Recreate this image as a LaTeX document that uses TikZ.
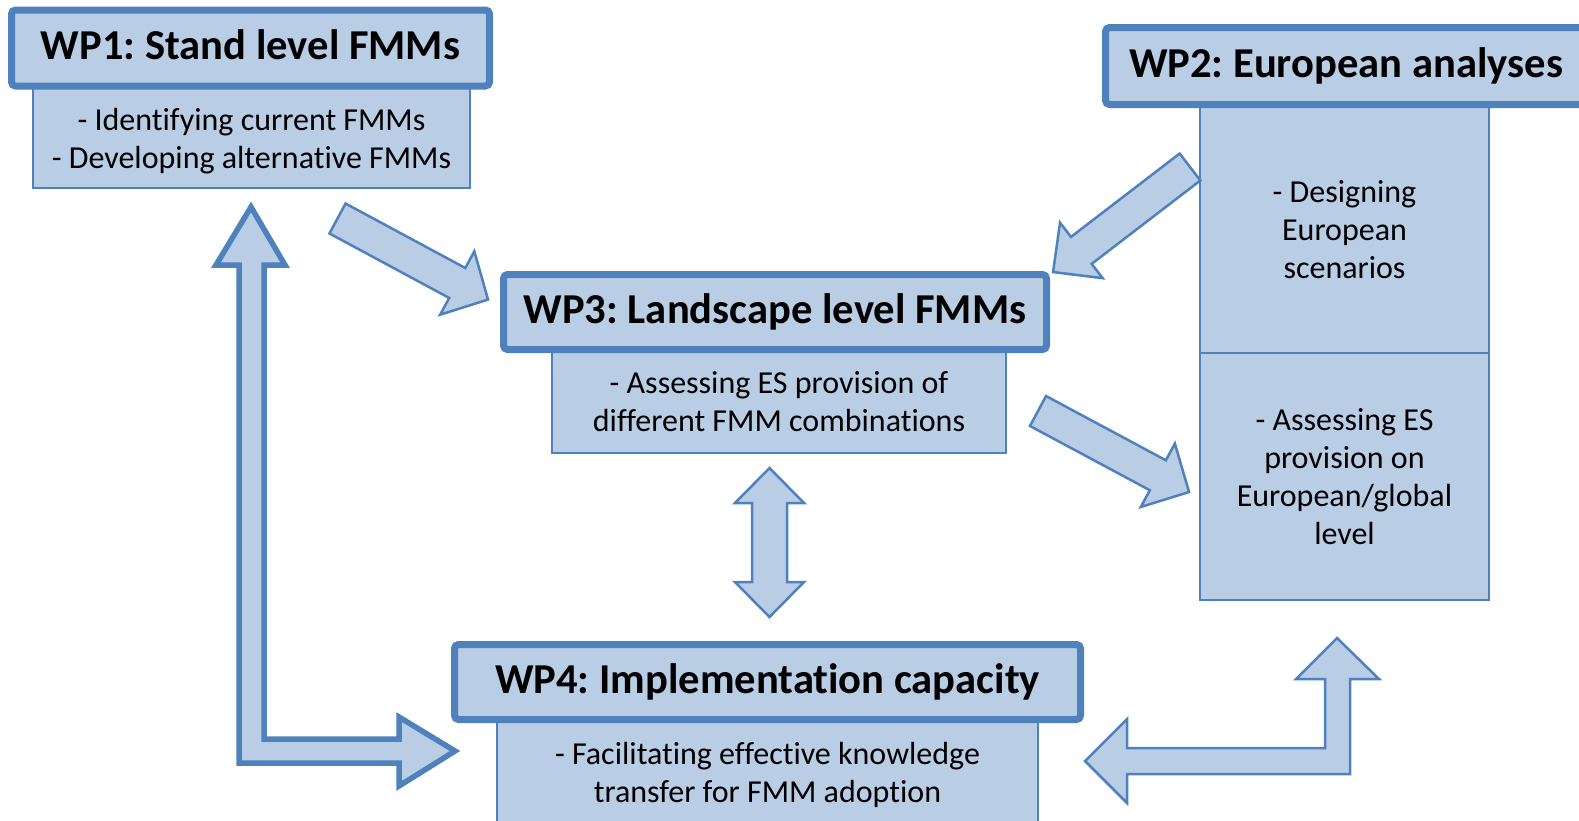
\documentclass[tikz,border=0pt]{standalone}
\usepackage{fontspec}
\setmainfont{Carlito}[Ligatures=CommonOff]
\frenchspacing
\definecolor{wpfill}{HTML}{B9CDE5}
\definecolor{wpline}{HTML}{4F81BD}
\tikzset{wptitle/.style = {draw=wpline, fill=wpfill, line width=7pt,
                           rounded corners=4pt, inner sep=0pt,
                           font=\fontsize{42.6}{50}\selectfont\bfseries,
                           text height=22pt, text depth=0pt}}
\tikzset{wptask/.style = {draw=wpline, fill=wpfill, line width=1.5pt,
                          inner sep=0pt, align=center, text depth=0pt,
                          font=\fontsize{32}{38}\selectfont}}
\tikzset{flow/.style = {draw=wpline, fill=wpfill, line width=2.5pt}}
\tikzset{flowthick/.style = {flow, line width=5.5pt}}

\begin{document}
\begin{tikzpicture}[x=1pt, y=-1pt]
      \useasboundingbox (0, 0) rectangle (1579, 820);
      \clip (0, 0) rectangle (1579, 820);

      \node [wptask, minimum width=437, minimum height=100] (wp1task) at (251.5, 138)
        {- Identifying current FMMs\\- Developing alternative FMMs};
      \node [wptask, minimum width=289, minimum height=248] (wp2scen) at (1344.5, 229)
        {- Designing\\European\\scenarios};
      \node [wptask, minimum width=289, minimum height=247] (wp2glob) at (1344.5, 476.5)
        {- Assessing ES\\provision on\\European/global\\level};
      \node [wptask, minimum width=454, minimum height=103] (wp3task) at (779, 401.5)
        {- Assessing ES provision of\\different FMM combinations};
      \node [wptask, minimum width=541, minimum height=105] (wp4task) at (767.5, 772.5)
        {- Facilitating effective knowledge\\transfer for FMM adoption};

      \node [wptitle, minimum width=478, minimum height=76] (wp1) at (250.5, 48)
        {WP1: Stand level FMMs};
      \node [wptitle, minimum width=481, minimum height=77] (wp2) at (1346, 66)
        {WP2: European analyses};
      \node [wptitle, minimum width=543, minimum height=75] (wp3) at (775, 312)
        {WP3: Landscape level FMMs};
      \node [wptitle, minimum width=626, minimum height=75] (wp4) at (767.5, 682)
        {WP4: Implementation capacity};

      \begin{scope}[shift={(337.5, 218.5)}, rotate=-28.3]
        \draw [flow] (0, -17) -- (136, -17) -- (136, -36) -- (171, 0)
          -- (136, 36) -- (136, 17) -- (0, 17) -- cycle;
      \end{scope}

      \begin{scope}[shift={(1190, 167)}, rotate=217.5]
        \draw [flow] (0, -17) -- (137, -17) -- (137, -35) -- (172.6, 0)
          -- (137, 35) -- (137, 17) -- (0, 17) -- cycle;
      \end{scope}

      \begin{scope}[shift={(1038, 411)}, rotate=-28.2]
        \draw [flow] (0, -17) -- (136, -17) -- (136, -36) -- (171.4, 0)
          -- (136, 36) -- (136, 17) -- (0, 17) -- cycle;
      \end{scope}

      \draw [flow] (769.5, 468) -- (804, 503) -- (787, 503) -- (787, 582)
        -- (804, 582) -- (769.5, 617) -- (735, 582) -- (752, 582)
        -- (752, 503) -- (735, 503) -- cycle;

      \draw [flowthick] (251, 207) -- (285, 265) -- (264, 265) -- (264, 739)
        -- (399, 739) -- (399, 717) -- (455, 751) -- (399, 786) -- (399, 763)
        -- (239, 763) -- (239, 265) -- (216, 265) -- cycle;

      \draw [flow] (1085, 761) -- (1127, 719) -- (1127, 748) -- (1325, 748)
        -- (1325, 679) -- (1296, 679) -- (1337, 638) -- (1379, 679)
        -- (1350, 679) -- (1350, 774) -- (1127, 774) -- (1127, 803) -- cycle;
    \end{tikzpicture}
\end{document}
